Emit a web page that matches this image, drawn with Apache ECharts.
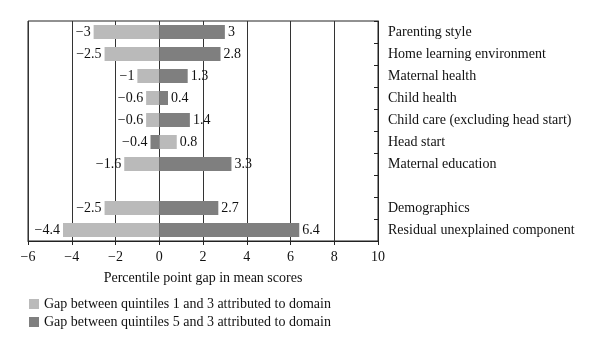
<!DOCTYPE html>
<html>
<head>
<meta charset="utf-8">
<script src="https://cdn.jsdelivr.net/npm/echarts@6/dist/echarts.min.js"></script>
<style>
  html, body { margin: 0; padding: 0; background: #fff; }
  #main { width: 600px; height: 351px; }
</style>
</head>
<body>
<div id="main"></div>
<script>
// domains, top to bottom (blank row separates the last two)
var categories = ['Parenting style', 'Home learning environment', 'Maternal health', 'Child health',
  'Child care (excluding head start)', 'Head start', 'Maternal education', '', 'Demographics',
  'Residual unexplained component'];
var gapQ1 = [-3, -2.5, -1, -0.6, -0.6, 0.8, -1.6, null, -2.5, -4.4];
var gapQ5 = [3, 2.8, 1.3, 0.4, 1.4, -0.4, 3.3, null, 2.7, 6.4];
var seriesNames = ['Gap between quintiles 1 and 3 attributed to domain',
  'Gap between quintiles 5 and 3 attributed to domain'];

var font = 'Liberation Serif';
var chart = echarts.init(document.getElementById('main'));

function minus(v) {
  return v < 0 ? '\u2212' + Math.abs(v) : String(v);
}

function makeSeries(name, values, color) {
  return {
    name: name,
    type: 'bar',
    stack: 'gap',
    barWidth: 14,
    itemStyle: { color: color },
    data: values.map(function (v) {
      return {
        value: v,
        label: { position: v < 0 ? 'left' : 'right' }
      };
    }),
    label: {
      show: true,
      distance: 3,
      color: '#111',
      fontFamily: font,
      fontSize: 14,
      formatter: function (p) { return minus(p.value); }
    }
  };
}

chart.setOption({
  backgroundColor: '#fff',
  animation: false,
  grid: {
    left: 28, right: 222, top: 21, bottom: 110,
    show: true, borderColor: '#222', borderWidth: 1
  },
  legend: {
    orient: 'vertical',
    left: 29, top: 297,
    padding: 0,
    itemWidth: 10, itemHeight: 10, itemGap: 4,
    icon: 'rect',
    textStyle: { fontFamily: font, fontSize: 14, color: '#111' },
    data: seriesNames
  },
  xAxis: {
    type: 'value',
    min: -6, max: 10, interval: 2,
    name: 'Percentile point gap in mean scores',
    nameLocation: 'middle',
    nameGap: 30,
    nameTextStyle: { fontFamily: font, fontSize: 14, color: '#111' },
    axisLine: { show: true, lineStyle: { color: '#222' } },
    axisTick: { show: true, length: 4, lineStyle: { color: '#222' } },
    axisLabel: {
      fontFamily: font, fontSize: 14, color: '#111', margin: 9,
      formatter: minus
    },
    splitLine: { show: true, lineStyle: { color: '#333', width: 1 } }
  },
  yAxis: {
    type: 'category',
    position: 'right',
    inverse: true,
    data: categories,
    axisLine: { show: true, onZero: false, lineStyle: { color: '#222' } },
    axisTick: { show: true, inside: true, length: 4, lineStyle: { color: '#222' } },
    axisLabel: { fontFamily: font, fontSize: 14, color: '#111', margin: 10 }
  },
  series: [
    makeSeries(seriesNames[0], gapQ1, '#bababa'),
    makeSeries(seriesNames[1], gapQ5, '#7f7f7f')
  ]
});
</script>
</body>
</html>
